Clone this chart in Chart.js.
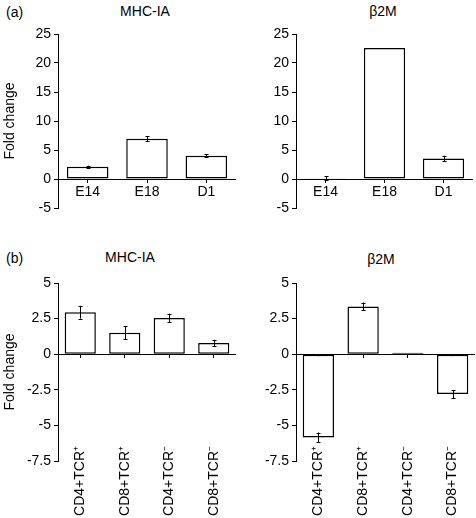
<!DOCTYPE html>
<html>
<head>
<meta charset="utf-8">
<script src="https://cdn.jsdelivr.net/npm/chart.js@4"></script>
<style>
  body { margin: 0; background: #fff; }
  #wrap { position: relative; width: 476px; height: 518px; overflow: hidden;
          font-family: "Liberation Sans", Arial, sans-serif; font-size: 14px; color: #000; }
  canvas { position: absolute; }
  .txt { position: absolute; line-height: 16px; white-space: nowrap; }
  .ttl { width: 100px; text-align: center; }
</style>
</head>
<body>
<div id="wrap">
  <div class="txt" style="left:6px;top:4px">(a)</div>
  <div class="txt ttl" style="left:95px;top:3px">MHC-IA</div>
  <div class="txt ttl" style="left:333px;top:3px">β2M</div>
  <div class="txt" style="left:6px;top:250px">(b)</div>
  <div class="txt ttl" style="left:80px;top:249px">MHC-IA</div>
  <div class="txt ttl" style="left:331px;top:251px">β2M</div>

  <canvas id="a1" width="238" height="222" style="left:0;top:0"></canvas>
  <canvas id="a2" width="238" height="222" style="left:238px;top:0"></canvas>
  <canvas id="b1" width="238" height="286" style="left:0;top:232px"></canvas>
  <canvas id="b2" width="238" height="286" style="left:238px;top:232px"></canvas>
</div>
<script>
// DATA

const stagesA = ["E14", "E18", "D1"];
const mhcA = [2.1, 6.95, 4.0];
const mhcAErr = [0.2, 0.4, 0.25];
const b2mA = [0.15, 22.6, 3.55];
const b2mAErr = [0.3, 0, 0.45];

const cellsB = ["CD4+TCR⁺", "CD8+TCR⁺", "CD4+TCR⁻", "CD8+TCR⁻"];
const mhcB = [2.95, 1.5, 2.55, 0.78];
const mhcBErr = [0.45, 0.45, 0.3, 0.22];
const b2mB = [-5.85, 3.35, 0.1, -2.8];
const b2mBErr = [0.35, 0.28, 0, 0.28];

const rangeA = [-5, 25, 5];
const rangeB = [-7.5, 5, 2.5];

const FONT = { family: "'Liberation Sans', Arial, sans-serif", size: 14 };

// error bars from the y scale
const errorBars = {
  id: "errorBars",
  afterDatasetsDraw(chart) {
    const errs = chart.options.plugins.errorBars.errs;
    const y = chart.scales.y;
    const ctx = chart.ctx;
    ctx.save();
    ctx.strokeStyle = "#000";
    ctx.lineWidth = 1;
    chart.getDatasetMeta(0).data.forEach((bar, i) => {
      const v = chart.data.datasets[0].data[i];
      const e = errs[i];
      if (!e) return;
      const top = y.getPixelForValue(v + e);
      const bot = y.getPixelForValue(v - e);
      const x = Math.round(bar.x) + 0.5;
      ctx.beginPath();
      ctx.moveTo(x, top);
      ctx.lineTo(x, bot);
      ctx.moveTo(x - 2, Math.round(top) + 0.5);
      ctx.lineTo(x + 2, Math.round(top) + 0.5);
      ctx.moveTo(x - 2, Math.round(bot) + 0.5);
      ctx.lineTo(x + 2, Math.round(bot) + 0.5);
      ctx.stroke();
    });
    ctx.restore();
  },
};

function makeChart(id, labels, values, errs, range, yTitle, rotated, pad) {
  const zeroAxis = {
    type: "category",
    position: { y: 0 },
    offset: true,
    border: { display: false },
    grid: {
      offset: false,
      drawOnChartArea: false,
      drawTicks: true,
      tickLength: 4,
      color: "#000",
      tickColor: "#000",
    },
    ticks: { display: !rotated, color: "#000", font: FONT, padding: 1, maxRotation: 0 },
    afterFit: (s) => { s.height = 0; },
  };

  const scales = {
    y: {
      min: range[0],
      max: range[1],
      border: { display: true, color: "#000", width: 1 },
      grid: {
        color: (c) => (c.tick && c.tick.value === 0 ? "#000" : "rgba(0,0,0,0)"),
        tickColor: "#000",
        tickLength: 4,
      },
      ticks: { stepSize: range[2], color: "#000", font: FONT, padding: 3 },
      title: { display: !!yTitle, text: yTitle, color: "#000", font: FONT, padding: 2 },
      afterFit: (s) => { s.width = 58; },
    },
  };

  if (rotated) {
    // labels hang from the bottom of the y range
    scales.x = {
      type: "category",
      position: { y: range[0] },
      border: { display: false },
      grid: { display: false },
      ticks: { color: "#000", font: FONT, minRotation: 90, maxRotation: 90, padding: -23, autoSkip: false },
      afterFit: (s) => { s.height = 0; },
    };
    scales.x0 = zeroAxis;
  } else {
    scales.x = zeroAxis;
  }

  return new Chart(document.getElementById(id), {
    type: "bar",
    data: {
      labels: labels,
      datasets: [
        {
          data: values,
          backgroundColor: "#fff",
          borderColor: "#000",
          borderWidth: 1.5,
          borderSkipped: false,
          barPercentage: 0.7,
          categoryPercentage: 1,
        },
      ],
    },
    options: {
      responsive: false,
      animation: false,
      layout: { padding: pad },
      plugins: {
        legend: { display: false },
        tooltip: { enabled: false },
        errorBars: { errs: errs },
      },
      scales: scales,
    },
    plugins: [errorBars],
  });
}

// PANEL (a)
makeChart("a1", stagesA, mhcA, mhcAErr, rangeA, "Fold change", false, { top: 34, right: 2, bottom: 14, left: 0 });
makeChart("a2", stagesA, b2mA, b2mAErr, rangeA, "", false, { top: 34, right: 3, bottom: 14, left: 0 });

// PANEL (b)
makeChart("b1", cellsB, mhcB, mhcBErr, rangeB, "Fold change", true, { top: 51, right: 2, bottom: 57, left: 0 });
makeChart("b2", cellsB, b2mB, b2mBErr, rangeB, "", true, { top: 51, right: 1, bottom: 57, left: 0 });
</script>
</body>
</html>
